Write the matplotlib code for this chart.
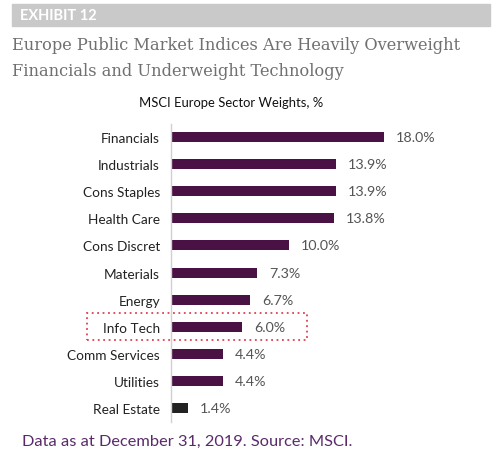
import matplotlib
matplotlib.use("Agg")
import matplotlib.pyplot as plt
from matplotlib.patches import Rectangle

# data
sectors = ["Financials", "Industrials", "Cons Staples", "Health Care", "Cons Discret",
           "Materials", "Energy", "Info Tech", "Comm Services", "Utilities", "Real Estate"]
weights = [18.0, 13.9, 13.9, 13.8, 10.0, 7.3, 6.7, 6.0, 4.4, 4.4, 1.4]
bar_colors = ["#4a1145"] * 10 + ["#222222"]

W, H = 500, 460
fig = plt.figure(figsize=(W / 100, H / 100), dpi=100)
fig.patch.set_facecolor("white")

def px(x0, y0, x1, y1):
    # pixel box (top-left origin) -> figure fraction rect
    return [x0 / W, 1 - y1 / H, (x1 - x0) / W, (y1 - y0) / H]

sans = ["Lato", "DejaVu Sans"]

# header band
fig.patches.append(Rectangle((12 / W, 1 - 27 / H), 478 / W, 22 / H,
                             transform=fig.transFigure, color="#c9c9c9", zorder=0))
fig.text(20 / W, 1 - 16 / H, "EXHIBIT 12", color="white", fontsize=10.5,
         fontweight="bold", family=sans, va="center", ha="left")

# title
fig.text(12 / W, 1 - 46 / H, "Europe Public Market Indices Are Heavily Overweight",
         color="#707070", fontsize=11.7, family="DejaVu Serif", va="center", ha="left")
fig.text(12 / W, 1 - 72 / H, "Financials and Underweight Technology",
         color="#707070", fontsize=11.7, family="DejaVu Serif", va="center", ha="left")

fig.text(231 / W, 1 - 103 / H, "MSCI Europe Sector Weights, %", color="#111111",
         fontsize=9.4, family=sans, ha="center", va="center")

# bars
ax = fig.add_axes(px(171, 124.5, 467, 422.6))
ypos = list(range(len(sectors)))
ax.barh(ypos, weights, height=0.37, color=bar_colors)
for y, v in zip(ypos, weights):
    ax.text(v + 1.0, y, f"{v:.1f}%", va="center", ha="left", fontsize=10.3,
            color="#555555", family=sans)
ax.set_yticks(ypos)
ax.set_yticklabels(sectors, fontsize=9.8, color="#222222", family=sans)
ax.tick_params(axis="y", length=0, pad=8)
ax.set_xticks([])
ax.set_xlim(0, 25)
ax.set_ylim(len(sectors) - 0.5, -0.5)
for s in ["top", "right", "bottom"]:
    ax.spines[s].set_visible(False)
ax.spines["left"].set_color("#d0d0d0")
ax.spines["left"].set_linewidth(1)

# dotted highlight around Info Tech
fig.patches.append(Rectangle((87 / W, 1 - 341 / H), 220 / W, 27 / H,
                             transform=fig.transFigure, fill=False,
                             edgecolor="#e0404f", linestyle=(0, (1, 2)), linewidth=1.3))

# footer
fig.text(22 / W, 1 - 442 / H, "Data as at December 31, 2019. Source: MSCI.",
         color="#5a2a6a", fontsize=11.8, family=sans, ha="left", va="center")

fig.savefig("out.png", dpi=100)
